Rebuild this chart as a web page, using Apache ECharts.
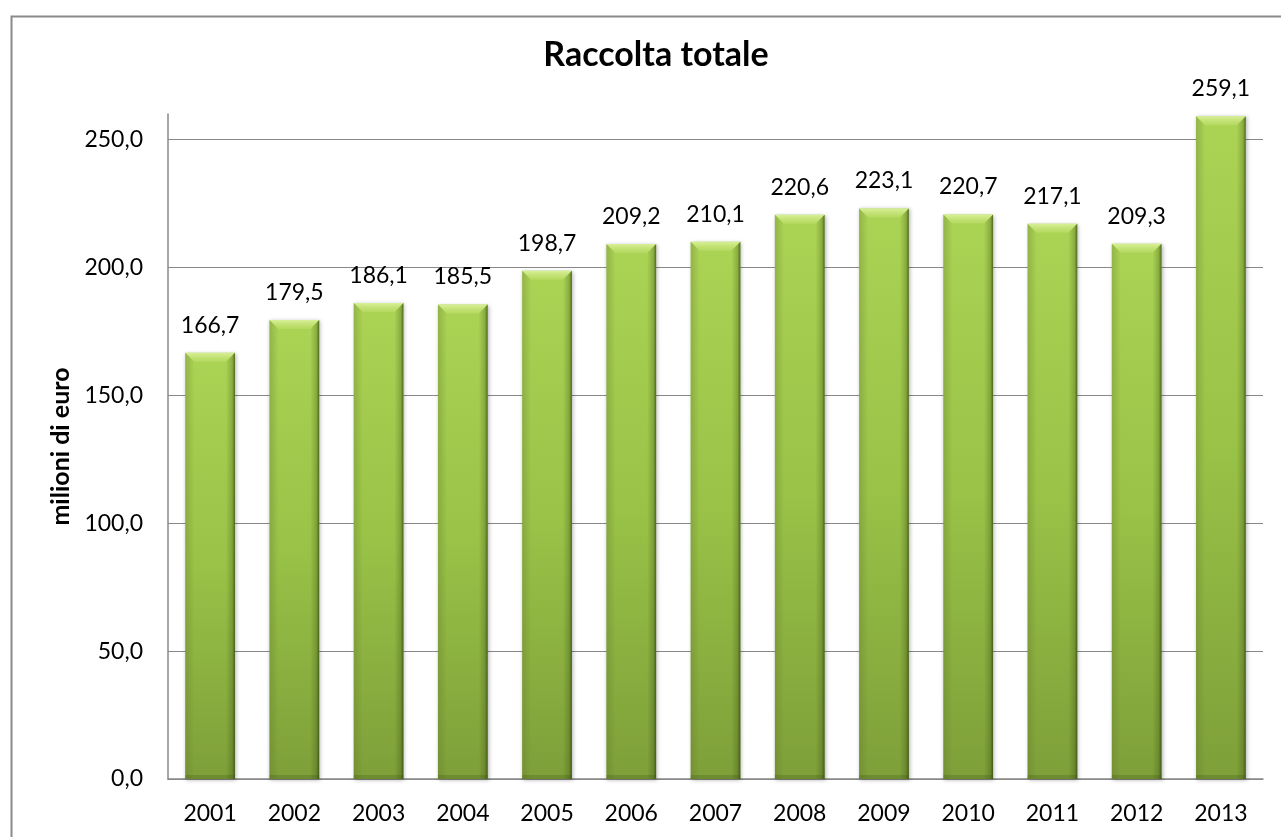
<!DOCTYPE html>
<html>
<head>
<meta charset="utf-8">
<title>Raccolta totale</title>
<script src="https://cdn.jsdelivr.net/npm/echarts@6/dist/echarts.min.js"></script>
<style>
  html, body { margin: 0; padding: 0; background: #fff; }
  #chart { width: 1281px; height: 837px; }
</style>
</head>
<body>
<div id="chart"></div>
<script>
// Annual totals, millions of euro
const years = ['2001', '2002', '2003', '2004', '2005', '2006', '2007', '2008', '2009', '2010', '2011', '2012', '2013'];
const raccolta = [166.7, 179.5, 186.1, 185.5, 198.7, 209.2, 210.1, 220.6, 223.1, 220.7, 217.1, 209.3, 259.1];

const FONT = 'Lato, "Open Sans", sans-serif';
const BAR_RATIO = 0.59;
const fmt = v => Number(v).toFixed(1).replace('.', ',');

// Bevel and edge shading drawn over each bar, positioned through the axes
function renderBevel(params, api) {
  const idx = api.value(0);
  const val = api.value(1);
  const top = api.coord([idx, val]);
  const base = api.coord([idx, 0]);
  const bw = api.size([1, 0])[0] * BAR_RATIO;
  const l = top[0] - bw / 2;
  const r = top[0] + bw / 2;
  const t = top[1];
  const b = base[1];
  const d = 9;
  return {
    type: 'group',
    silent: true,
    children: [
      { type: 'polygon', shape: { points: [[l, t], [r, t], [r - d, t + d], [l + d, t + d]] },
        style: { fill: new echarts.graphic.LinearGradient(0, 0, 0, 1, [
          { offset: 0, color: 'rgba(225,245,165,0.85)' },
          { offset: 1, color: 'rgba(200,230,120,0.35)' }]) } },
      { type: 'polygon', shape: { points: [[l, t], [l + d, t + d], [l + d, b], [l, b]] },
        style: { fill: new echarts.graphic.LinearGradient(0, 0, 1, 0, [
          { offset: 0, color: 'rgba(90,110,40,0.3)' },
          { offset: 1, color: 'rgba(90,110,40,0)' }]) } },
      { type: 'polygon', shape: { points: [[r, t], [r - d, t + d], [r - d, b], [r, b]] },
        style: { fill: new echarts.graphic.LinearGradient(0, 0, 1, 0, [
          { offset: 0, color: 'rgba(40,60,10,0)' },
          { offset: 0.7, color: 'rgba(40,60,10,0.25)' },
          { offset: 1, color: 'rgba(40,60,10,0.7)' }]) } },
      { type: 'rect', shape: { x: l, y: b - 4, width: bw, height: 4 },
        style: { fill: 'rgba(60,80,20,0.25)' } }
    ]
  };
}

const chart = echarts.init(document.getElementById('chart'));
chart.setOption({
  animation: false,
  backgroundColor: '#fff',
  graphic: [{
    type: 'rect',
    left: 9, top: 14,
    shape: { width: 1300, height: 900 },
    style: { fill: 'none', stroke: '#8a8a8a', lineWidth: 2 },
    silent: true
  }],
  title: {
    text: 'Raccolta totale',
    left: 651, top: 33,
    textAlign: 'center',
    textStyle: { fontFamily: FONT, fontWeight: 'bold', fontSize: 34, color: '#000' }
  },
  grid: { left: 168, right: 18, top: 114, bottom: 58, containLabel: false },
  xAxis: {
    type: 'category',
    data: years,
    axisLine: { show: true, lineStyle: { color: '#888', width: 1.5 } },
    axisTick: { show: false },
    axisLabel: { margin: 23, fontFamily: FONT, fontSize: 23, color: '#000' }
  },
  yAxis: {
    type: 'value',
    min: 0, max: 260, interval: 50,
    name: 'milioni di euro',
    nameLocation: 'middle',
    nameGap: 92,
    nameTextStyle: { fontFamily: FONT, fontWeight: 'bold', fontSize: 25, color: '#000' },
    axisLine: { show: true, lineStyle: { color: '#888', width: 1.5 } },
    axisTick: { show: false },
    axisLabel: { margin: 25, fontFamily: FONT, fontSize: 23, color: '#000',
      showMaxLabel: false, formatter: v => fmt(v) },
    splitLine: { show: true, showMaxLine: false, lineStyle: { color: '#888', width: 1.2 } }
  },
  series: [{
    type: 'bar',
    data: raccolta,
    barWidth: (BAR_RATIO * 100) + '%',
    itemStyle: {
      color: new echarts.graphic.LinearGradient(0, 0, 0, 1, [
        { offset: 0, color: '#abd354' },
        { offset: 0.5, color: '#99c247' },
        { offset: 1, color: '#7e9f39' }]),
      shadowColor: 'rgba(0,0,0,0.3)',
      shadowBlur: 4,
      shadowOffsetX: 1,
      shadowOffsetY: 1
    },
    label: {
      show: true,
      position: 'top',
      distance: 16,
      fontFamily: FONT, fontSize: 23, color: '#000',
      formatter: p => fmt(p.value)
    },
    z: 2
  }, {
    type: 'custom',
    renderItem: renderBevel,
    data: raccolta.map((v, i) => [i, v]),
    z: 3,
    silent: true,
    tooltip: { show: false }
  }]
});
</script>
</body>
</html>
